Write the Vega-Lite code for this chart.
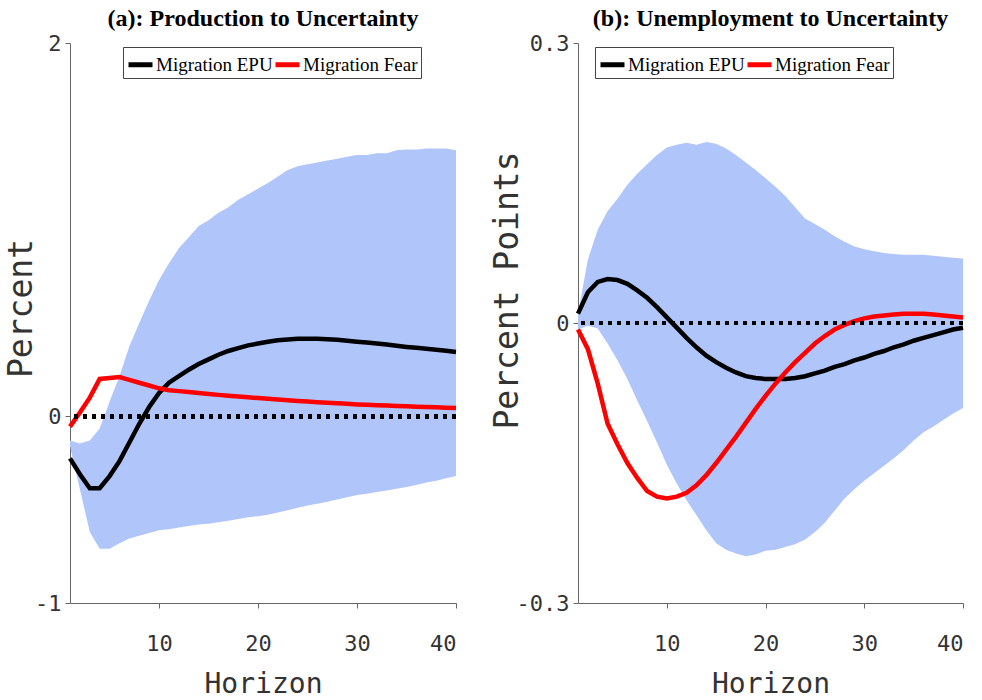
{
  "$schema": "https://vega.github.io/schema/vega-lite/v6.json",
  "padding": {"left": 5, "top": 7, "right": 5, "bottom": 0},
  "datasets": {
    "production": [
      {"h": 1, "Migration EPU": -0.225, "Migration Fear": -0.055, "lo": -0.16, "hi": -0.13},
      {"h": 2, "Migration EPU": -0.31, "Migration Fear": 0.02, "lo": -0.39, "hi": -0.145},
      {"h": 3, "Migration EPU": -0.385, "Migration Fear": 0.1, "lo": -0.62, "hi": -0.13},
      {"h": 4, "Migration EPU": -0.385, "Migration Fear": 0.2, "lo": -0.71, "hi": -0.065},
      {"h": 5, "Migration EPU": -0.32, "Migration Fear": 0.205, "lo": -0.71, "hi": 0.08},
      {"h": 6, "Migration EPU": -0.24, "Migration Fear": 0.21, "lo": -0.68, "hi": 0.215},
      {"h": 7, "Migration EPU": -0.14, "Migration Fear": 0.195, "lo": -0.655, "hi": 0.376},
      {"h": 8, "Migration EPU": -0.04, "Migration Fear": 0.18, "lo": -0.64, "hi": 0.5},
      {"h": 9, "Migration EPU": 0.05, "Migration Fear": 0.165, "lo": -0.625, "hi": 0.62},
      {"h": 10, "Migration EPU": 0.125, "Migration Fear": 0.15, "lo": -0.61, "hi": 0.73},
      {"h": 11, "Migration EPU": 0.18, "Migration Fear": 0.14, "lo": -0.605, "hi": 0.82},
      {"h": 12, "Migration EPU": 0.215, "Migration Fear": 0.135, "lo": -0.595, "hi": 0.9},
      {"h": 13, "Migration EPU": 0.25, "Migration Fear": 0.13, "lo": -0.588, "hi": 0.96},
      {"h": 14, "Migration EPU": 0.28, "Migration Fear": 0.125, "lo": -0.58, "hi": 1.02},
      {"h": 15, "Migration EPU": 0.305, "Migration Fear": 0.12, "lo": -0.575, "hi": 1.05},
      {"h": 16, "Migration EPU": 0.33, "Migration Fear": 0.115, "lo": -0.568, "hi": 1.09},
      {"h": 17, "Migration EPU": 0.35, "Migration Fear": 0.11, "lo": -0.56, "hi": 1.12},
      {"h": 18, "Migration EPU": 0.365, "Migration Fear": 0.106, "lo": -0.55, "hi": 1.16},
      {"h": 19, "Migration EPU": 0.38, "Migration Fear": 0.102, "lo": -0.54, "hi": 1.19},
      {"h": 20, "Migration EPU": 0.39, "Migration Fear": 0.098, "lo": -0.535, "hi": 1.22},
      {"h": 21, "Migration EPU": 0.4, "Migration Fear": 0.094, "lo": -0.527, "hi": 1.25},
      {"h": 22, "Migration EPU": 0.408, "Migration Fear": 0.09, "lo": -0.515, "hi": 1.285},
      {"h": 23, "Migration EPU": 0.412, "Migration Fear": 0.086, "lo": -0.503, "hi": 1.32},
      {"h": 24, "Migration EPU": 0.415, "Migration Fear": 0.082, "lo": -0.49, "hi": 1.34},
      {"h": 25, "Migration EPU": 0.415, "Migration Fear": 0.079, "lo": -0.478, "hi": 1.35},
      {"h": 26, "Migration EPU": 0.415, "Migration Fear": 0.076, "lo": -0.468, "hi": 1.36},
      {"h": 27, "Migration EPU": 0.413, "Migration Fear": 0.073, "lo": -0.457, "hi": 1.37},
      {"h": 28, "Migration EPU": 0.41, "Migration Fear": 0.07, "lo": -0.445, "hi": 1.38},
      {"h": 29, "Migration EPU": 0.405, "Migration Fear": 0.067, "lo": -0.433, "hi": 1.39},
      {"h": 30, "Migration EPU": 0.4, "Migration Fear": 0.064, "lo": -0.422, "hi": 1.4},
      {"h": 31, "Migration EPU": 0.395, "Migration Fear": 0.062, "lo": -0.415, "hi": 1.4},
      {"h": 32, "Migration EPU": 0.39, "Migration Fear": 0.06, "lo": -0.405, "hi": 1.41},
      {"h": 33, "Migration EPU": 0.385, "Migration Fear": 0.058, "lo": -0.397, "hi": 1.41},
      {"h": 34, "Migration EPU": 0.378, "Migration Fear": 0.056, "lo": -0.388, "hi": 1.425},
      {"h": 35, "Migration EPU": 0.372, "Migration Fear": 0.054, "lo": -0.378, "hi": 1.43},
      {"h": 36, "Migration EPU": 0.367, "Migration Fear": 0.052, "lo": -0.368, "hi": 1.43},
      {"h": 37, "Migration EPU": 0.362, "Migration Fear": 0.05, "lo": -0.355, "hi": 1.435},
      {"h": 38, "Migration EPU": 0.357, "Migration Fear": 0.048, "lo": -0.345, "hi": 1.435},
      {"h": 39, "Migration EPU": 0.351, "Migration Fear": 0.046, "lo": -0.332, "hi": 1.435},
      {"h": 40, "Migration EPU": 0.345, "Migration Fear": 0.044, "lo": -0.32, "hi": 1.425}
    ],
    "unemployment": [
      {"h": 1, "Migration EPU": 0.01, "Migration Fear": -0.007, "lo": -0.007, "hi": 0.01},
      {"h": 2, "Migration EPU": 0.033, "Migration Fear": -0.028, "lo": -0.003, "hi": 0.068},
      {"h": 3, "Migration EPU": 0.044, "Migration Fear": -0.065, "lo": -0.006, "hi": 0.1},
      {"h": 4, "Migration EPU": 0.047, "Migration Fear": -0.108, "lo": -0.022, "hi": 0.12},
      {"h": 5, "Migration EPU": 0.046, "Migration Fear": -0.13, "lo": -0.04, "hi": 0.133},
      {"h": 6, "Migration EPU": 0.042, "Migration Fear": -0.15, "lo": -0.06, "hi": 0.148},
      {"h": 7, "Migration EPU": 0.035, "Migration Fear": -0.166, "lo": -0.083, "hi": 0.16},
      {"h": 8, "Migration EPU": 0.027, "Migration Fear": -0.18, "lo": -0.105, "hi": 0.17},
      {"h": 9, "Migration EPU": 0.017, "Migration Fear": -0.186, "lo": -0.128, "hi": 0.18},
      {"h": 10, "Migration EPU": 0.006, "Migration Fear": -0.188, "lo": -0.152, "hi": 0.188},
      {"h": 11, "Migration EPU": -0.005, "Migration Fear": -0.186, "lo": -0.172, "hi": 0.191},
      {"h": 12, "Migration EPU": -0.016, "Migration Fear": -0.182, "lo": -0.19, "hi": 0.193},
      {"h": 13, "Migration EPU": -0.026, "Migration Fear": -0.174, "lo": -0.206, "hi": 0.191},
      {"h": 14, "Migration EPU": -0.035, "Migration Fear": -0.163, "lo": -0.222, "hi": 0.194},
      {"h": 15, "Migration EPU": -0.042, "Migration Fear": -0.15, "lo": -0.236, "hi": 0.192},
      {"h": 16, "Migration EPU": -0.048, "Migration Fear": -0.136, "lo": -0.243, "hi": 0.187},
      {"h": 17, "Migration EPU": -0.053, "Migration Fear": -0.122, "lo": -0.247, "hi": 0.18},
      {"h": 18, "Migration EPU": -0.057, "Migration Fear": -0.107, "lo": -0.25, "hi": 0.172},
      {"h": 19, "Migration EPU": -0.059, "Migration Fear": -0.092, "lo": -0.248, "hi": 0.164},
      {"h": 20, "Migration EPU": -0.06, "Migration Fear": -0.078, "lo": -0.244, "hi": 0.155},
      {"h": 21, "Migration EPU": -0.06, "Migration Fear": -0.065, "lo": -0.243, "hi": 0.146},
      {"h": 22, "Migration EPU": -0.06, "Migration Fear": -0.053, "lo": -0.24, "hi": 0.136},
      {"h": 23, "Migration EPU": -0.059, "Migration Fear": -0.042, "lo": -0.237, "hi": 0.124},
      {"h": 24, "Migration EPU": -0.057, "Migration Fear": -0.032, "lo": -0.232, "hi": 0.112},
      {"h": 25, "Migration EPU": -0.054, "Migration Fear": -0.022, "lo": -0.224, "hi": 0.106},
      {"h": 26, "Migration EPU": -0.051, "Migration Fear": -0.014, "lo": -0.214, "hi": 0.1},
      {"h": 27, "Migration EPU": -0.047, "Migration Fear": -0.007, "lo": -0.201, "hi": 0.093},
      {"h": 28, "Migration EPU": -0.044, "Migration Fear": -0.002, "lo": -0.188, "hi": 0.087},
      {"h": 29, "Migration EPU": -0.04, "Migration Fear": 0.002, "lo": -0.178, "hi": 0.082},
      {"h": 30, "Migration EPU": -0.037, "Migration Fear": 0.005, "lo": -0.169, "hi": 0.079},
      {"h": 31, "Migration EPU": -0.033, "Migration Fear": 0.007, "lo": -0.161, "hi": 0.077},
      {"h": 32, "Migration EPU": -0.03, "Migration Fear": 0.008, "lo": -0.153, "hi": 0.075},
      {"h": 33, "Migration EPU": -0.026, "Migration Fear": 0.009, "lo": -0.145, "hi": 0.074},
      {"h": 34, "Migration EPU": -0.023, "Migration Fear": 0.01, "lo": -0.136, "hi": 0.073},
      {"h": 35, "Migration EPU": -0.019, "Migration Fear": 0.01, "lo": -0.126, "hi": 0.073},
      {"h": 36, "Migration EPU": -0.016, "Migration Fear": 0.01, "lo": -0.117, "hi": 0.073},
      {"h": 37, "Migration EPU": -0.013, "Migration Fear": 0.009, "lo": -0.111, "hi": 0.072},
      {"h": 38, "Migration EPU": -0.01, "Migration Fear": 0.008, "lo": -0.104, "hi": 0.071},
      {"h": 39, "Migration EPU": -0.007, "Migration Fear": 0.007, "lo": -0.097, "hi": 0.07},
      {"h": 40, "Migration EPU": -0.005, "Migration Fear": 0.006, "lo": -0.091, "hi": 0.069}
    ]
  },
  "config": {
    "view": {"stroke": null},
    "title": {"font": "Liberation Serif", "fontSize": 24, "fontWeight": "bold", "color": "black", "anchor": "middle", "frame": "group", "offset": 1},
    "axis": {
      "grid": false,
      "domainColor": "#666",
      "tickColor": "#666",
      "tickSize": 5,
      "labelFont": "DejaVu Sans Mono",
      "labelFontSize": 22,
      "labelColor": "#333",
      "titleFont": "DejaVu Sans Mono",
      "titleFontWeight": "normal",
      "titleColor": "#333"
    },
    "axisX": {"labelPadding": 25, "titleFontSize": 28, "titlePadding": 16},
    "axisY": {"labelPadding": 4, "titleFontSize": 33, "titleBaseline": "alphabetic"},
    "legend": {
      "orient": "none",
      "legendY": 4,
      "direction": "horizontal",
      "title": null,
      "strokeColor": "#444",
      "fillColor": "white",
      "padding": 3,
      "cornerRadius": 0,
      "symbolType": "stroke",
      "symbolStrokeWidth": 5,
      "symbolSize": 576,
      "labelFont": "Liberation Serif",
      "labelFontSize": 19,
      "labelColor": "black",
      "labelOffset": 1,
      "columnPadding": -9
    }
  },
  "spacing": 26,
  "resolve": {
    "scale": {"x": "independent", "y": "independent", "color": "independent"},
    "legend": {"color": "independent"}
  },
  "hconcat": [
    {
      "width": 386,
      "height": 560,
      "title": "(a): Production to Uncertainty",
      "data": {"name": "production"},
      "layer": [
        {
          "mark": {"type": "area", "color": "#b0c6fb"},
          "encoding": {
            "x": {"field": "h", "type": "quantitative", "scale": {"domain": [1, 40], "nice": false}, "axis": {"values": [10, 20, 30, 40]}, "title": "Horizon"},
            "y": {"field": "lo", "type": "quantitative", "scale": {"domain": [-1, 2], "nice": false}, "axis": {"values": [-1, 0, 2], "labelExpr": "'' + datum.value", "titleX": -39, "titleY": 265}, "title": "Percent"},
            "y2": {"field": "hi"}
          }
        },
        {
          "transform": [{"fold": ["Migration EPU", "Migration Fear"], "as": ["series", "value"]}],
          "mark": {"type": "line", "strokeWidth": 4.5},
          "encoding": {
            "x": {"field": "h", "type": "quantitative"},
            "y": {"field": "value", "type": "quantitative"},
            "color": {"field": "series", "type": "nominal", "scale": {"domain": ["Migration EPU", "Migration Fear"], "range": ["black", "#ff0000"]}, "legend": {"legendX": 53}}
          }
        },
        {
          "mark": {"type": "rule", "color": "black", "strokeWidth": 4, "strokeDash": [4, 5]},
          "encoding": {"y": {"datum": 0}}
        }
      ]
    },
    {
      "width": 385,
      "height": 560,
      "title": "(b): Unemployment to Uncertainty",
      "data": {"name": "unemployment"},
      "layer": [
        {
          "mark": {"type": "area", "color": "#b0c6fb"},
          "encoding": {
            "x": {"field": "h", "type": "quantitative", "scale": {"domain": [1, 40], "nice": false}, "axis": {"values": [10, 20, 30, 40]}, "title": "Horizon"},
            "y": {"field": "lo", "type": "quantitative", "scale": {"domain": [-0.3, 0.3], "nice": false}, "axis": {"values": [-0.3, 0, 0.3], "labelExpr": "'' + datum.value", "titleX": -61, "titleY": 247}, "title": "Percent Points"},
            "y2": {"field": "hi"}
          }
        },
        {
          "transform": [{"fold": ["Migration EPU", "Migration Fear"], "as": ["series", "value"]}],
          "mark": {"type": "line", "strokeWidth": 4.5},
          "encoding": {
            "x": {"field": "h", "type": "quantitative"},
            "y": {"field": "value", "type": "quantitative"},
            "color": {"field": "series", "type": "nominal", "scale": {"domain": ["Migration EPU", "Migration Fear"], "range": ["black", "#ff0000"]}, "legend": {"legendX": 17}}
          }
        },
        {
          "mark": {"type": "rule", "color": "black", "strokeWidth": 4, "strokeDash": [4, 5]},
          "encoding": {"y": {"datum": 0}}
        }
      ]
    }
  ]
}
